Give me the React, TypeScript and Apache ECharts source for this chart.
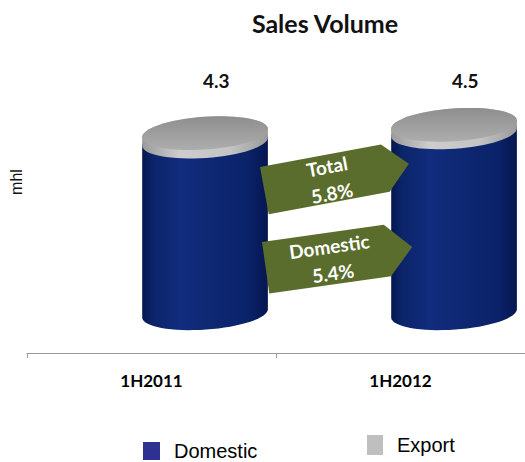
import React, { useEffect, useRef } from 'react';
import * as echarts from 'echarts';

const categories = ['1H2011', '1H2012'];
const domestic = [4.1, 4.32];
const exportVol = [0.2, 0.18];
const seriesNames = ['Domestic', 'Export'];
const growthNames = ['Total', 'Domestic'];
const growthValues = ['5.8%', '5.4%'];
const LABEL_LEVEL = 5.56;

const TILT = -0.07;

function ellipsePts(cx: number, cy: number, rx: number, ry: number, t0: number, t1: number, n = 32) {
  const pts: number[][] = [];
  const c = Math.cos(TILT);
  const s = Math.sin(TILT);
  for (let i = 0; i <= n; i++) {
    const t = t0 + ((t1 - t0) * i) / n;
    const lx = rx * Math.cos(t);
    const ly = ry * Math.sin(t);
    pts.push([cx + lx * c - ly * s, cy + lx * s + ly * c]);
  }
  return pts;
}

const blueFill = {
  type: 'linear', x: 0, y: 0, x2: 1, y2: 0,
  colorStops: [
    { offset: 0, color: '#06174f' },
    { offset: 0.08, color: '#0b2469' },
    { offset: 0.3, color: '#122c7e' },
    { offset: 0.55, color: '#0e2873' },
    { offset: 0.85, color: '#0a2268' },
    { offset: 1, color: '#061650' },
  ],
};
const bandFill = {
  type: 'linear', x: 0, y: 0, x2: 1, y2: 0,
  colorStops: [
    { offset: 0, color: '#9a9a9a' },
    { offset: 0.3, color: '#cdcdcd' },
    { offset: 0.7, color: '#c4c4c4' },
    { offset: 1, color: '#9a9a9a' },
  ],
};
const topFill = {
  type: 'linear', x: 0, y: 0, x2: 0, y2: 1,
  colorStops: [
    { offset: 0, color: '#8e8e8e' },
    { offset: 1, color: '#adadad' },
  ],
};

export default function App() {
  const ref = useRef<HTMLDivElement>(null);
  useEffect(() => {
    document.body.style.margin = '0';
    const chart = echarts.init(ref.current!, null, { renderer: 'svg' });

    const geom = (api: any) => {
      const idx = api.value(0);
      const base = api.coord([idx, 0]);
      const band = api.size([1, 0])[0];
      const cx = base[0] + band * 0.215;
      const rx = band * 0.253;
      const ry = rx * 0.26;
      return { idx, cx, rx, ry, y0: base[1], band };
    };

    const data = categories.map((_, i) => [i, domestic[i], exportVol[i]]);

    const arrow = (x: number, y: number, rot: number, w: number, tip: number, h: number, name: string, val: string) => ({
      type: 'group',
      x,
      y,
      z: 20,
      rotation: rot,
      children: [
        {
          type: 'polygon',
          z: 20,
          shape: { points: [[0, 0], [w, 0], [tip, h / 2], [w, h], [0, h]] },
          style: { fill: '#5a6d2d' },
        },
        {
          type: 'text',
          z: 21,
          x: 66,
          y: h / 2 + 1,
          style: {
            text: name + '\n' + val,
            fill: '#ffffff',
            fontFamily: 'Lato',
            fontWeight: 'bold',
            fontSize: 19,
            lineHeight: 27,
            align: 'center',
            verticalAlign: 'middle',
          },
        },
      ],
    });

    chart.setOption({
      animation: false,
      backgroundColor: '#ffffff',
      title: {
        text: 'Sales Volume',
        left: 320,
        top: 5,
        textAlign: 'center',
        textStyle: { fontFamily: 'Lato', fontWeight: 'bold', fontSize: 25, color: '#111' },
      },
      legend: [
        {
          data: [seriesNames[0]],
          left: 143,
          top: 441,
          padding: 0,
          icon: 'rect',
          itemWidth: 17,
          itemHeight: 18,
          textStyle: { fontFamily: 'Liberation Sans', fontSize: 20, lineHeight: 20, color: '#000', padding: [0, 0, 0, 9] },
        },
        {
          data: [seriesNames[1]],
          left: 367,
          top: 435,
          padding: 0,
          icon: 'rect',
          itemWidth: 16,
          itemHeight: 20,
          textStyle: { fontFamily: 'Liberation Sans', fontSize: 20, lineHeight: 20, color: '#000', padding: [0, 0, 0, 9] },
        },
      ],
      grid: { left: 27, right: 0, top: 62, bottom: 109 },
      xAxis: {
        type: 'category',
        data: categories,
        axisLine: { onZero: false, lineStyle: { color: '#999', width: 1 } },
        axisTick: { show: true, length: 5, lineStyle: { color: '#999' } },
        axisLabel: { fontFamily: 'Lato', fontWeight: 'bold', fontSize: 17, color: '#000', margin: 19 },
      },
      yAxis: { type: 'value', min: -0.95, max: 6, show: false },
      graphic: [
        {
          type: 'text',
          x: 16,
          y: 182,
          rotation: Math.PI / 2,
          style: {
            text: 'mhl',
            fontFamily: 'Liberation Sans',
            fontSize: 16,
            fill: '#111',
            align: 'center',
            verticalAlign: 'middle',
          },
        },
        arrow(260, 167, 0.183, 123, 147, 48, growthNames[0], growthValues[0]),
        arrow(262, 242, 0.14, 123, 148, 52, growthNames[1], growthValues[1]),
      ],
      series: [
        {
          name: seriesNames[0],
          type: 'custom',
          z: 2,
          itemStyle: { color: '#2e3192' },
          encode: { x: 0, y: [1, 2] },
          data,
          renderItem: (params: any, api: any) => {
            const g = geom(api);
            const d = api.value(1);
            const yTop = api.coord([g.idx, d])[1];
            const pts = [
              ...ellipsePts(g.cx, g.y0, g.rx, g.ry, 0, Math.PI),
              ...ellipsePts(g.cx, yTop, g.rx, g.ry, Math.PI, 2 * Math.PI),
            ];
            return {
              type: 'group',
              children: [{ type: 'polygon', shape: { points: pts }, style: { fill: blueFill } }],
            };
          },
        },
        {
          name: seriesNames[1],
          type: 'custom',
          z: 3,
          itemStyle: { color: '#bfbfbf' },
          encode: { x: 0, y: [1, 2] },
          data,
          renderItem: (params: any, api: any) => {
            const g = geom(api);
            const d = api.value(1);
            const e = api.value(2);
            const yB = api.coord([g.idx, d])[1];
            const yT = api.coord([g.idx, d + e])[1];
            const band = [
              ...ellipsePts(g.cx, yB, g.rx, g.ry, 0, Math.PI),
              ...ellipsePts(g.cx, yT, g.rx, g.ry, Math.PI, 2 * Math.PI),
            ];
            const top = ellipsePts(g.cx, yT, g.rx, g.ry, 0, 2 * Math.PI, 64);
            const labelY = api.coord([g.idx, LABEL_LEVEL])[1];
            return {
              type: 'group',
              children: [
                { type: 'polygon', shape: { points: band }, style: { fill: bandFill } },
                { type: 'polygon', shape: { points: top }, style: { fill: topFill } },
                {
                  type: 'text',
                  x: g.cx + g.band * 0.045,
                  y: labelY,
                  style: {
                    text: (d + e).toFixed(1),
                    fontFamily: 'Lato',
                    fontWeight: 'bold',
                    fontSize: 19,
                    fill: '#111',
                    align: 'center',
                    verticalAlign: 'middle',
                  },
                },
              ],
            };
          },
        },
      ],
    });
    return () => chart.dispose();
  }, []);
  return <div ref={ref} style={{ width: 525, height: 462 }} />;
}
